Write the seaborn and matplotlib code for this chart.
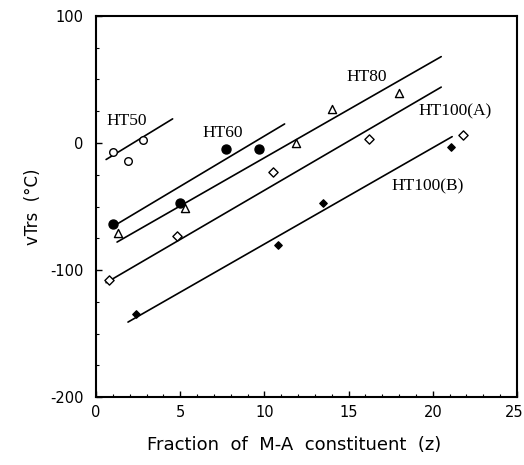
import matplotlib
matplotlib.use("Agg")
import matplotlib.pyplot as plt
import matplotlib.transforms as mtrans
import seaborn as sns
import pandas as pd
from matplotlib.ticker import MultipleLocator

# ---- data ----
ht50_x = [1.0, 1.9, 2.8]
ht50_y = [-7, -14, 2]
ht60_x = [1.0, 5.0, 7.7, 9.7]
ht60_y = [-64, -47, -5, -5]
ht80_x = [1.3, 5.3, 11.9, 14.0, 18.0]
ht80_y = [-71, -51, 0, 27, 39]
ht100a_x = [0.8, 4.8, 10.5, 16.2, 21.8]
ht100a_y = [-108, -73, -23, 3, 6]
ht100b_x = [2.4, 10.8, 13.5, 21.1]
ht100b_y = [-135, -80, -47, -3]

# fitted lines (end points)
fit50_x, fit50_y = [0.6, 4.55], [-13, 19]
fit60_x, fit60_y = [1.1, 11.2], [-65, 15]
fit80_x, fit80_y = [1.25, 20.5], [-78, 68]
fit100a_x, fit100a_y = [0.6, 20.5], [-110, 44]
fit100b_x, fit100b_y = [1.9, 21.15], [-141, 5]

labels = ["HT50", "HT60", "HT80", "HT100(A)", "HT100(B)"]
label_x = [1.85, 7.55, 16.1, 21.3, 19.7]
label_y = [17, 7.5, 52, 25, -34]

x_ticks = [0, 5, 10, 15, 20, 25]
y_ticks = [-200, -100, 0, 100]

sns.set_theme(style="ticks")
plt.rcParams['font.family'] = ['DejaVu Sans']

fig = plt.figure(figsize=(5.24, 4.65), dpi=100)
ax = fig.add_axes([0.1832, 0.1462, 0.8034, 0.8194])

for fx, fy in [(fit50_x, fit50_y), (fit60_x, fit60_y), (fit80_x, fit80_y),
               (fit100a_x, fit100a_y), (fit100b_x, fit100b_y)]:
    sns.lineplot(x=fx, y=fy, ax=ax, color="black", linewidth=1.2, legend=False)

def pts(xs, ys, marker, face, size):
    df = pd.DataFrame({"x": xs, "y": ys})
    sns.scatterplot(data=df, x="x", y="y", ax=ax, marker=marker, s=size,
                    facecolor=face, edgecolor="black", linewidth=1.0,
                    legend=False, zorder=3)

pts(ht50_x, ht50_y, "o", "white", 30)
pts(ht60_x, ht60_y, "o", "black", 42)
pts(ht80_x, ht80_y, "^", "white", 34)
pts(ht100a_x, ht100a_y, "D", "white", 22)
pts(ht100b_x, ht100b_y, "D", "black", 14)

for t, lx, ly in zip(labels, label_x, label_y):
    ax.text(lx, ly, t, ha="center", va="center", fontsize=12.5,
            family="Liberation Serif", color="black")

ax.set_xlim(0, 25)
ax.set_ylim(-200, 100)
ax.set_xticks(x_ticks)
ax.set_xticklabels([str(v) for v in x_ticks])
ax.set_yticks(y_ticks)
ax.set_yticklabels([str(v) for v in y_ticks])
ax.xaxis.set_minor_locator(MultipleLocator(1))
ax.yaxis.set_minor_locator(MultipleLocator(25))
ax.tick_params(which="major", direction="in", length=4, width=1, labelsize=10.5,
               color="black", labelcolor="black")
ax.tick_params(axis="x", which="major", pad=6)
ax.tick_params(axis="y", which="major", pad=9)
ax.tick_params(which="minor", direction="in", length=2, width=0.8, color="black")
ax.tick_params(axis="x", which="both", top=False)
ax.tick_params(axis="y", which="both", right=False)
for s in ax.spines.values():
    s.set_visible(True)
    s.set_linewidth(1.5)
    s.set_color("black")

ax.set_xlabel("Fraction  of  M-A  constituent  (z)", fontsize=13, color="black")
ax.xaxis.set_label_coords(0.4715, -0.101)
ax.set_ylabel("vTrs  (°C)", fontsize=12, color="black")
ax.yaxis.set_label_coords(-0.128, 0.5)

for lab in ax.get_xticklabels():
    if lab.get_text() == "25":
        lab.set_transform(lab.get_transform() +
                          mtrans.ScaledTranslation(-3/100, 0, fig.dpi_scale_trans))

fig.savefig("out.png", dpi=100)
